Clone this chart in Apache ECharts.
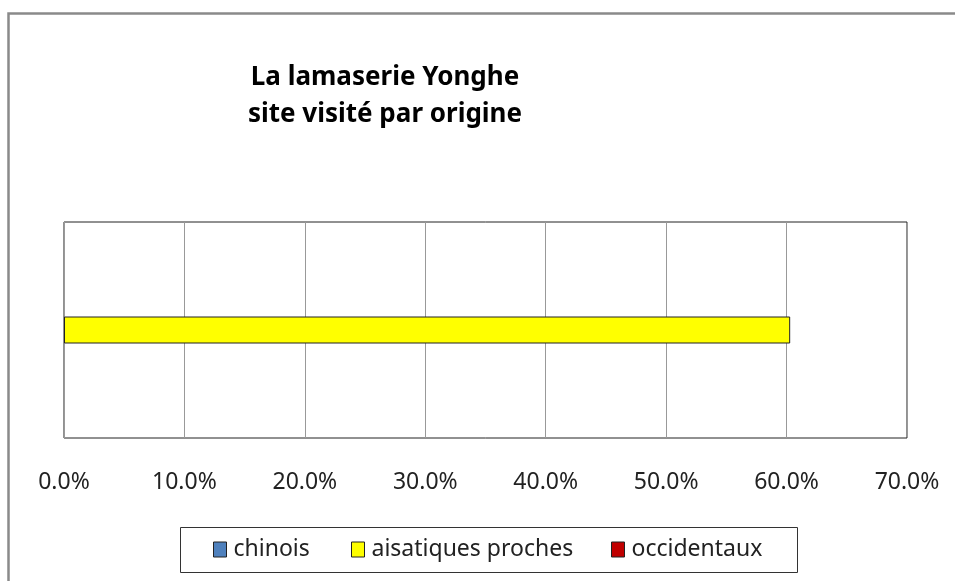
<!DOCTYPE html>
<html>
<head>
<meta charset="utf-8">
<script src="https://cdn.jsdelivr.net/npm/echarts@6/dist/echarts.min.js"></script>
<style>
  html, body { margin: 0; padding: 0; background: #fff; }
  #chart { width: 955px; height: 581px; }
</style>
</head>
<body>
<div id="chart"></div>
<script>
// Share of visitors to the Yonghe lamasery, by origin
const categories = ['Lamaserie Yonghe'];
const seriesNames = ['chinois', 'aisatiques proches', 'occidentaux'];
const chinois = [0];
const aisatiquesProches = [0.603];
const occidentaux = [0];
const xTicks = [0, 0.1, 0.2, 0.3, 0.4, 0.5, 0.6, 0.7];

const colors = ['#4F81BD', '#FFFF00', '#C00000'];
const values = [chinois, aisatiquesProches, occidentaux];
const legendLeft = [213, 351, 611];

const chart = echarts.init(document.getElementById('chart'), null, { renderer: 'canvas' });

const font = '"Noto Sans", "Open Sans", sans-serif';

chart.setOption({
  backgroundColor: '#ffffff',
  animation: false,
  title: {
    text: 'La lamaserie Yonghe\nsite visité par origine',
    left: 380,
    top: 54,
    textAlign: 'center',
    textStyle: { fontFamily: font, fontSize: 26, fontWeight: 'bold', color: '#000', lineHeight: 37 }
  },
  graphic: [{
    type: 'rect',
    shape: { x: 8.5, y: 13.5, width: 960, height: 600 },
    style: { fill: null, stroke: '#8a8a8a', lineWidth: 2.5 },
    silent: true
  }, {
    // legend frame
    type: 'rect',
    shape: { x: 180.5, y: 527.5, width: 617, height: 45 },
    style: { fill: null, stroke: '#333', lineWidth: 1 },
    silent: true
  }],
  legend: seriesNames.map((name, i) => ({
    data: [name],
    left: legendLeft[i],
    top: 538,
    padding: 0,
    itemWidth: 13,
    itemHeight: 15,
    itemGap: 0,
    icon: 'rect',
    textStyle: { fontFamily: font, fontSize: 23, color: '#222', padding: [0, 0, 0, 2] },
    itemStyle: { borderColor: '#222', borderWidth: 1 }
  })),
  grid: {
    left: 64,
    top: 222,
    width: 843,
    height: 216,
    show: true,
    borderColor: '#222',
    borderWidth: 1
  },
  xAxis: {
    type: 'value',
    min: xTicks[0],
    max: xTicks[xTicks.length - 1],
    interval: 0.1,
    axisLine: { show: false },
    axisTick: { show: false },
    splitLine: { show: true, lineStyle: { color: '#999', width: 1 } },
    axisLabel: {
      margin: 33,
      fontFamily: font,
      fontSize: 23,
      color: '#222',
      formatter: v => (v * 100).toFixed(1) + '%'
    }
  },
  yAxis: {
    type: 'category',
    data: categories,
    axisLine: { show: false },
    axisTick: { show: false },
    axisLabel: { show: false }
  },
  series: seriesNames.map((name, i) => ({
    name: name,
    type: 'bar',
    data: values[i],
    barWidth: 27,
    barGap: '0%',
    itemStyle: { color: colors[i], borderColor: '#222', borderWidth: values[i][0] > 0 ? 1 : 0 }
  }))
});
</script>
</body>
</html>
